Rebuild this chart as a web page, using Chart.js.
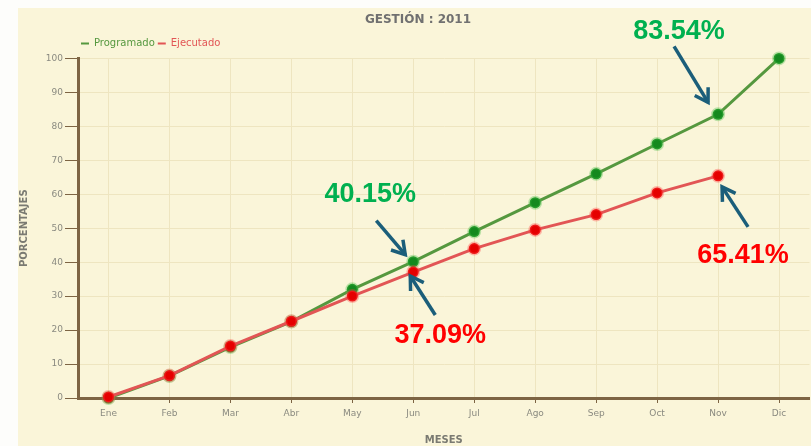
<!DOCTYPE html>
<html>
<head>
<meta charset="utf-8">
<script src="https://cdn.jsdelivr.net/npm/chart.js@4"></script>
<style>
  html, body { margin: 0; padding: 0; background: #fdfdfb; }
  body { width: 811px; height: 446px; overflow: hidden; position: relative; }
  .panel { position: absolute; left: 18px; top: 8px; width: 793px; height: 438px; background: #faf5d9; overflow: hidden; }
</style>
</head>
<body>
<div class="panel"><canvas id="chart" width="800" height="438"></canvas></div>
<script>
/* ── DATA ── */
const months     = ['Ene', 'Feb', 'Mar', 'Abr', 'May', 'Jun', 'Jul', 'Ago', 'Sep', 'Oct', 'Nov', 'Dic'];
const programado = [0, 6.5, 15, 22.5, 32, 40.15, 49, 57.5, 66, 74.8, 83.54, 100];
const ejecutado  = [0.3, 6.6, 15.3, 22.6, 30, 37.09, 44, 49.5, 54, 60.4, 65.41];

// callouts: [dataset index, month index, label, colour, text dx, text dy, arrow from dx,dy, arrow to dx,dy]
const callouts = [
  [0, 5,  '40.15%', '#00b050', -43, -67, -37, -41, -8, -7],
  [0, 10, '83.54%', '#00b050', -39, -83, -44, -68, -10, -12],
  [1, 5,  '37.09%', '#ff0000',  27,  64,  22,  43, -3,   4],
  [1, 10, '65.41%', '#ff0000',  25,  80,  30,  51,  4,  11],
];

const BROWN = '#7d6443';
const GRID  = '#eee5c0';
const TICK  = '#8a8a80';

/* ── CALLOUT PLUGIN ── */
const calloutPlugin = {
  id: 'callouts',
  afterDatasetsDraw(chart) {
    const ctx = chart.ctx;
    ctx.save();
    callouts.forEach(([ds, i, txt, col, tx, ty, ax, ay, bx, by]) => {
      const p = chart.getDatasetMeta(ds).data[i];
      const x0 = p.x + ax, y0 = p.y + ay, x1 = p.x + bx, y1 = p.y + by;
      ctx.strokeStyle = '#1b5e7a';
      ctx.lineWidth = 3.5;
      ctx.beginPath(); ctx.moveTo(x0, y0); ctx.lineTo(x1, y1); ctx.stroke();
      const ang = Math.atan2(y1 - y0, x1 - x0);
      const L = 15;
      ctx.beginPath();
      ctx.moveTo(x1 - L * Math.cos(ang - 0.55), y1 - L * Math.sin(ang - 0.55));
      ctx.lineTo(x1, y1);
      ctx.lineTo(x1 - L * Math.cos(ang + 0.55), y1 - L * Math.sin(ang + 0.55));
      ctx.stroke();
      ctx.fillStyle = col;
      ctx.font = "bold 27px 'Liberation Sans', Arial, sans-serif";
      ctx.textAlign = 'center';
      ctx.textBaseline = 'middle';
      ctx.fillText(txt, p.x + tx, p.y + ty);
    });
    ctx.restore();
  }
};

/* ── CHART ── */
new Chart(document.getElementById('chart').getContext('2d'), {
  type: 'line',
  data: {
    labels: months,
    datasets: [
      { label: 'Programado', data: programado, order: 1, borderColor: '#55983f', borderWidth: 3,
        pointRadius: 5.5, pointHoverRadius: 5.5, pointBackgroundColor: '#14891e',
        pointBorderColor: 'rgba(70,190,70,0.35)', pointBorderWidth: 3, tension: 0, clip: false },
      { label: 'Ejecutado', data: ejecutado, order: 0, borderColor: '#e25555', borderWidth: 3,
        pointRadius: 5.5, pointHoverRadius: 5.5, pointBackgroundColor: '#e50000',
        pointBorderColor: 'rgba(255,70,70,0.35)', pointBorderWidth: 3, tension: 0, clip: false },
    ],
  },
  options: {
    responsive: false,
    animation: false,
    layout: { padding: { left: 0, right: 0, top: 0, bottom: 0 } },
    plugins: {
      title: {
        display: true, text: 'GESTIÓN : 2011', color: '#707070',
        font: { family: "'DejaVu Sans'", size: 12, weight: 'bold' },
        padding: { top: 5, bottom: 8 },
      },
      legend: {
        position: 'top', align: 'start', fullSize: false,
        labels: {
          boxWidth: 8, boxHeight: 2, padding: 3,
          font: { family: "'DejaVu Sans'", size: 10 },
          sort: (a, b) => a.datasetIndex - b.datasetIndex,
          generateLabels: chart => chart.data.datasets.map((d, i) => ({
            text: d.label, datasetIndex: i, fillStyle: d.borderColor,
            strokeStyle: d.borderColor, lineWidth: 0, fontColor: d.borderColor, hidden: false,
          })),
        },
      },
      tooltip: { enabled: false },
    },
    scales: {
      x: {
        offset: true,
        grid: { color: GRID, tickColor: BROWN, tickLength: 5, offset: false },
        border: { color: BROWN, width: 3 },
        ticks: { color: TICK, font: { family: "'DejaVu Sans'", size: 9 }, padding: 5 },
        title: { display: true, text: 'MESES', color: '#7a7a72',
                 font: { family: "'DejaVu Sans'", size: 10, weight: 'bold' }, padding: { top: 2, bottom: 0 } },
        afterFit: s => { s.height = 48; },
      },
      y: {
        min: 0, max: 100,
        grid: { color: GRID, tickColor: BROWN, tickLength: 13 },
        border: { color: BROWN, width: 3 },
        ticks: { stepSize: 10, color: TICK, font: { family: "'DejaVu Sans'", size: 9 }, padding: 2 },
        title: { display: true, text: 'PORCENTAJES', color: '#7a7a72',
                 font: { family: "'DejaVu Sans'", size: 10, weight: 'bold' }, padding: { top: 0, bottom: 4 } },
        afterFit: s => { s.width = 60; },
      },
    },
  },
  plugins: [calloutPlugin],
});
</script>
</body>
</html>
